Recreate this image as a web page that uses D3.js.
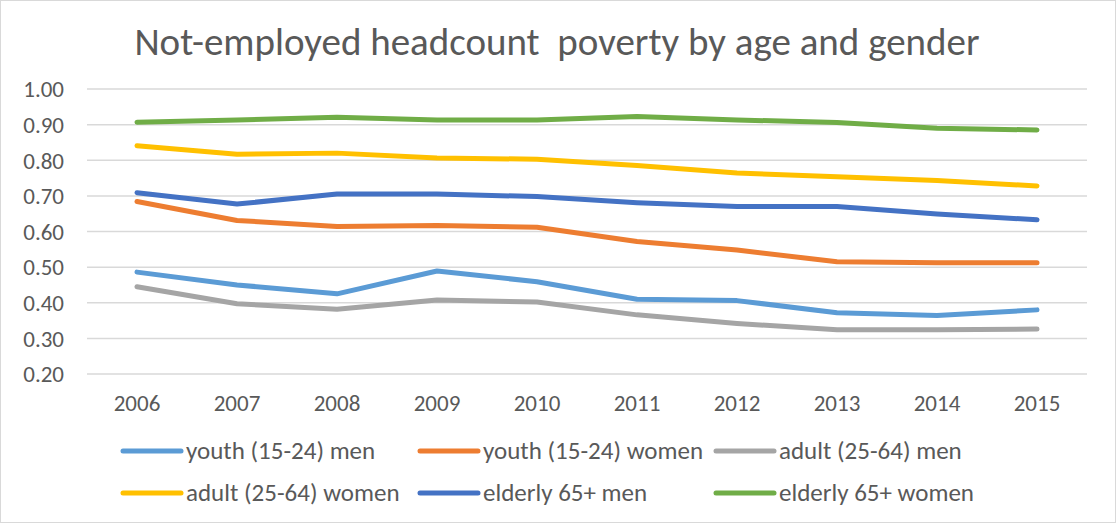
<!DOCTYPE html>
<html>
<head>
<meta charset="utf-8">
<script src="https://cdn.jsdelivr.net/npm/d3@7"></script>
<style>
  html, body { margin: 0; padding: 0; background: #fff; }
  svg { display: block; }
</style>
</head>
<body>
<div id="chart"></div>
<script>
const years = ['2006', '2007', '2008', '2009', '2010', '2011', '2012', '2013', '2014', '2015'];
const yTicks = [0.2, 0.3, 0.4, 0.5, 0.6, 0.7, 0.8, 0.9, 1.0];

const youthMen     = [0.486, 0.450, 0.425, 0.489, 0.459, 0.410, 0.406, 0.372, 0.364, 0.380];
const youthWomen   = [0.684, 0.631, 0.614, 0.617, 0.612, 0.572, 0.548, 0.515, 0.512, 0.512];
const adultMen     = [0.445, 0.397, 0.382, 0.408, 0.402, 0.366, 0.342, 0.324, 0.324, 0.326];
const adultWomen   = [0.841, 0.817, 0.820, 0.806, 0.803, 0.785, 0.764, 0.754, 0.743, 0.728];
const elderlyMen   = [0.709, 0.677, 0.705, 0.705, 0.698, 0.681, 0.670, 0.670, 0.649, 0.633];
const elderlyWomen = [0.907, 0.913, 0.921, 0.913, 0.913, 0.923, 0.913, 0.906, 0.890, 0.885];

const seriesNames = ['youth (15-24) men', 'youth (15-24) women', 'adult (25-64) men',
                     'adult (25-64) women', 'elderly 65+ men', 'elderly 65+ women'];
const seriesValues = [youthMen, youthWomen, adultMen, adultWomen, elderlyMen, elderlyWomen];
const colors = ['#5B9BD5', '#ED7D31', '#A5A5A5', '#FFC000', '#4472C4', '#70AD47'];

const W = 1116, H = 523;
const plot = { left: 87, right: 1087, top: 89, bottom: 374 };
const font = "Calibri, Carlito, 'Liberation Sans Narrow', 'Open Sans', sans-serif";

const svg = d3.select('#chart').append('svg')
    .attr('width', W)
    .attr('height', H);

svg.append('rect')
    .attr('x', 0.5).attr('y', 0.5)
    .attr('width', W - 1).attr('height', H - 1)
    .attr('fill', '#fff')
    .attr('stroke', '#d9d9d9');

const x = d3.scaleBand()
    .domain(years)
    .range([plot.left, plot.right]);

const y = d3.scaleLinear()
    .domain([0.2, 1.0])
    .range([plot.bottom, plot.top]);

// title
svg.append('text')
    .attr('x', 557)
    .attr('y', 55)
    .attr('text-anchor', 'middle')
    .attr('fill', '#595959')
    .style('font-family', font)
    .style('font-size', '39px')
    .style('white-space', 'pre')
    .text('Not-employed headcount  poverty by age and gender');

// gridlines
svg.append('g')
    .selectAll('line')
    .data(yTicks)
    .enter().append('line')
    .attr('x1', plot.left)
    .attr('x2', plot.right)
    .attr('y1', d => y(d))
    .attr('y2', d => y(d))
    .attr('stroke', '#d9d9d9')
    .attr('stroke-width', 1.5);

// y axis labels
const yAxis = svg.append('g')
    .attr('transform', `translate(${plot.left - 23}, 0)`)
    .call(d3.axisLeft(y).tickValues(yTicks).tickFormat(d3.format('.2f')).tickSize(0));
yAxis.select('.domain').remove();
yAxis.selectAll('text')
    .attr('x', 0)
    .attr('dy', '0.34em')
    .attr('fill', '#595959')
    .style('font-family', font)
    .style('font-size', '23px');

// x axis labels
const xAxis = svg.append('g')
    .attr('transform', `translate(0, 411)`)
    .call(d3.axisBottom(x).tickSize(0));
xAxis.select('.domain').remove();
xAxis.selectAll('text')
    .attr('y', 0)
    .attr('dy', 0)
    .attr('fill', '#595959')
    .style('font-family', font)
    .style('font-size', '23px');

// lines
const line = d3.line()
    .x((d, i) => x(years[i]) + x.bandwidth() / 2)
    .y(d => y(d));

svg.append('g')
    .selectAll('path')
    .data(seriesValues)
    .enter().append('path')
    .attr('fill', 'none')
    .attr('stroke', (d, i) => colors[i])
    .attr('stroke-width', 5)
    .attr('stroke-linecap', 'round')
    .attr('stroke-linejoin', 'round')
    .attr('d', line);

// legend
const legendCols = [123, 420, 716];
const legendRows = [451, 493];
const legend = svg.append('g')
    .selectAll('g')
    .data(seriesNames)
    .enter().append('g')
    .attr('transform', (d, i) => `translate(${legendCols[i % 3]}, ${legendRows[Math.floor(i / 3)]})`);

legend.append('line')
    .attr('x1', 0).attr('x2', 58)
    .attr('y1', 0).attr('y2', 0)
    .attr('stroke', (d, i) => colors[i])
    .attr('stroke-width', 5)
    .attr('stroke-linecap', 'round');

legend.append('text')
    .attr('x', 63)
    .attr('y', 0)
    .attr('dy', '0.33em')
    .attr('fill', '#595959')
    .style('font-family', font)
    .style('font-size', '25px')
    .text(d => d);
</script>
</body>
</html>
